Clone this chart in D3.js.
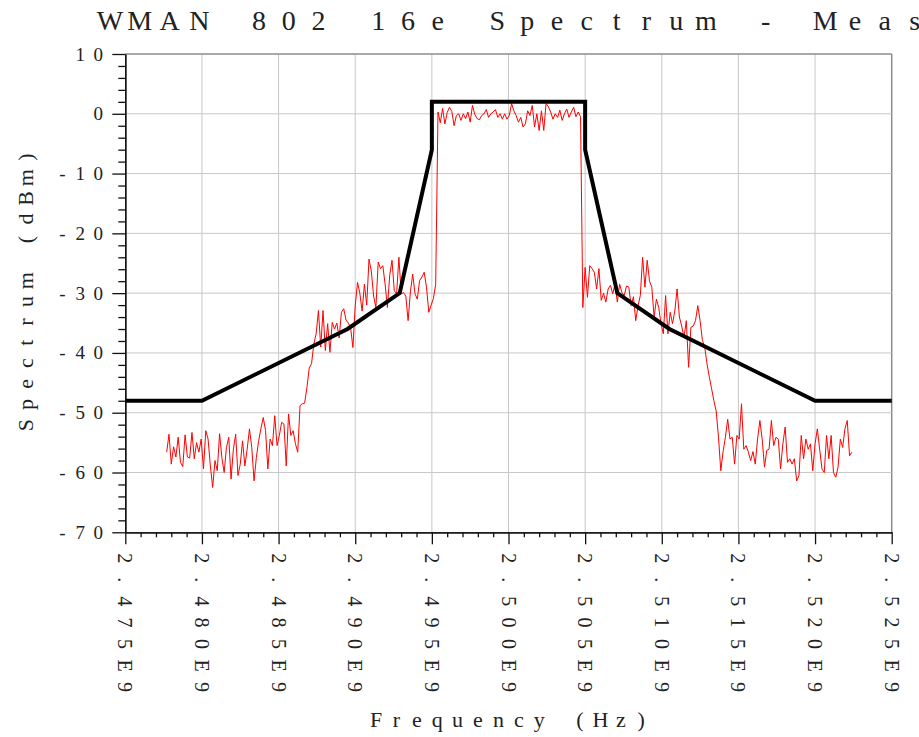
<!DOCTYPE html>
<html><head><meta charset="utf-8">
<script src="https://cdn.jsdelivr.net/npm/d3@7"></script>
<style>body{margin:0;background:#fff;} svg{display:block;}</style>
</head><body><svg id="chart" width="919" height="737"></svg>
<script>
const title = "WMAN 802 16e Spectrum - Meas";
const xLabel = "Frequency (Hz)";
const yLabel = "Spectrum (dBm)";
const xTicks = [2.475e9,2.480e9,2.485e9,2.490e9,2.495e9,2.500e9,2.505e9,2.510e9,2.515e9,2.520e9,2.525e9];
const xTickLabels = ["2.475E9","2.480E9","2.485E9","2.490E9","2.495E9","2.500E9","2.505E9","2.510E9","2.515E9","2.520E9","2.525E9"];
const yTicks = [10,0,-10,-20,-30,-40,-50,-60,-70];
const yTickLabels = ["10","0","-10","-20","-30","-40","-50","-60","-70"];
const maskFreq = [2.475e9,2.480e9,2.4895e9,2.4929e9,2.495e9,2.495e9,2.505e9,2.505e9,2.5071e9,2.5105e9,2.520e9,2.525e9];
const maskLevel = [-48,-48,-36,-30,-6,2,2,-6,-30,-36,-48,-48];
const measStart = 2.4777e9;
const measStep = 0.15e6;
const measLevel = [
-56.6,-53.6,-58.6,-55.7,-57.4,-54.1,-58.3,-59.0,-53.7,-57.4,
-57.6,-53.3,-57.7,-55.0,-56.6,-54.4,-59.4,-53.0,-54.4,-58.9,
-62.5,-58.0,-59.7,-53.5,-57.5,-60.0,-55.8,-54.1,-61.1,-56.1,
-53.6,-60.5,-58.6,-54.7,-58.9,-56.1,-52.7,-55.8,-61.4,-57.5,
-54.7,-52.6,-50.8,-53.0,-59.4,-54.4,-55.5,-50.5,-55.5,-53.8,
-51.6,-51.9,-58.9,-50.2,-53.8,-53.0,-55.2,-56.6,
-48.8,-48.5,
-48.4,-45.8,-42.5,-41.8,-38.5,-36.8,-32.9,-39.0,-32.9,-39.6,
-35.1,-39.9,-34.9,-36.0,-35.0,-37.5,-33.2,-32.6,-34.5,-35.0,
-35.8,-39.1,-32.1,-28.2,-30.0,-33.0,-28.5,-32.0,-24.3,-26.3,
-30.5,-32.4,-24.8,-25.9,-25.4,-28.5,-32.4,-27.0,-24.5,-29.6,
-30.1,-24.0,-30.1,-29.9,-30.5,-34.6,-29.8,-26.8,-30.1,-31.0,
-27.9,-27.3,-26.5,-29.0,-33.2,-32.0,-30.9,-28.5,
0.3,-1.5,0.9,-1.7,0.2,1.1,0.4,-2.0,-0.3,0.0,
-1.1,0.0,-0.8,0.3,-1.4,1.4,-0.1,-0.8,-1.0,-0.3,
0.0,0.7,-0.6,0.0,0.3,0.7,-0.6,0.0,-0.9,0.0,
-0.9,-0.3,1.7,0.5,-0.3,-1.4,-0.6,-2.2,-1.7,0.5,
-0.3,1.4,-2.2,0.0,-2.8,0.5,-2.8,1.7,1.2,0.3,
-0.9,0.0,-0.6,0.6,-1.1,0.0,0.8,-0.6,0.3,1.1,
-0.5,0.3,-0.5,
-32.4,-25.7,-30.7,-25.4,-25.9,-26.5,-29.3,-25.9,-31.2,-30.0,
-31.5,-29.3,-28.7,-30.1,-28.5,-31.5,-28.5,-29.9,-30.4,-28.8,
-29.0,-32.1,-30.6,-34.6,-32.1,-30.4,-24.0,-29.0,-24.5,-28.0,
-29.0,-34.0,-31.0,-32.4,-35.1,-36.8,-30.4,-36.8,-33.2,-35.1,
-33.0,-29.3,-34.0,-35.5,-37.4,-34.6,-42.4,-35.7,-35.5,-34.6,
-32.1,-34.6,-37.9,-39.0,-41.8,-44.0,
-46.0,-48.0,-49.7,-54.1,-59.7,-56.5,-54.1,-51.1,-54.4,-54.1,
-58.6,-53.8,-54.4,-48.5,-56.1,-55.5,-56.6,-58.0,-56.5,-58.6,
-54.4,-51.3,-54.4,-59.1,-56.3,-56.1,-51.3,-55.5,-54.1,-54.4,
-59.4,-55.2,-52.4,-58.3,-57.7,-58.6,-57.7,-61.4,-60.5,-53.8,
-57.7,-54.4,-56.1,-55.2,-59.7,-55.2,-52.7,-56.1,-59.4,-60.0,
-53.8,-57.7,-53.8,-60.0,-60.8,-59.1,-54.4,-55.8,-52.7,-51.3,
-57.2,-56.6
];

const FONT = "'Liberation Serif','DejaVu Serif',serif";
const svg = d3.select("#chart");
const X0 = 125.3, X1 = 891.7, Y0 = 532.3, Y1 = 54.0;
const x = d3.scaleLinear().domain([2.475e9, 2.525e9]).range([X0, X1]);
const y = d3.scaleLinear().domain([-70, 10]).range([Y0, Y1]);

// grid
const grid = svg.append("g");
grid.selectAll("line.gx").data(xTicks.slice(1)).join("line")
  .attr("x1", d => x(d)).attr("x2", d => x(d)).attr("y1", Y1).attr("y2", Y0)
  .attr("stroke", d => d === 2.525e9 ? "#8c8c8c" : "#c8c8c8").attr("stroke-width", d => d === 2.525e9 ? 1.5 : 1);
grid.selectAll("line.gy").data(yTicks.slice(0, -1)).join("line")
  .attr("x1", X0).attr("x2", X1).attr("y1", d => y(d)).attr("y2", d => y(d))
  .attr("stroke", d => d === 10 ? "#8c8c8c" : "#c8c8c8").attr("stroke-width", d => d === 10 ? 1.5 : 1);

// axes
const yMinor = d3.range(-70, 10.001, 2).filter(v => v % 10 !== 0);
const xMinor = d3.range(2475, 2525.001, 1).filter(v => v % 5 !== 0).map(v => v * 1e6);
const axisStyle = g => { g.selectAll("path,line").attr("stroke", "#111").attr("stroke-width", 1.3); };
svg.append("g").attr("transform", `translate(${X0},0)`)
  .call(d3.axisLeft(y).tickValues(yMinor).tickSize(7).tickFormat("").tickSizeOuter(0)).call(axisStyle);
svg.append("g").attr("transform", `translate(${X0},0)`)
  .call(d3.axisLeft(y).tickValues(yTicks).tickSize(13).tickFormat("").tickSizeOuter(0)).call(axisStyle);
svg.append("g").attr("transform", `translate(0,${Y0})`)
  .call(d3.axisBottom(x).tickValues(xMinor).tickSize(5).tickFormat("").tickSizeOuter(0)).call(axisStyle);
svg.append("g").attr("transform", `translate(0,${Y0})`)
  .call(d3.axisBottom(x).tickValues(xTicks).tickSize(12).tickFormat("").tickSizeOuter(0)).call(axisStyle);

// spaced text helper (fixed character pitch)
function spaced(parent, str, startCenter, pitch) {
  const xs = Array.from(str, (c, i) => (startCenter + i * pitch).toFixed(1));
  return parent.append("text").attr("x", xs.join(" ")).attr("text-anchor", "middle")
    .attr("font-family", FONT).attr("fill", "#222").text(str);
}

// y tick labels
yTicks.forEach((v, i) => {
  const s = yTickLabels[i];
  const pitch = 18, lastC = 98.3;
  spaced(svg, s, lastC - (s.length - 1) * pitch, pitch)
    .attr("y", y(v)).attr("dominant-baseline", "central").attr("font-size", 19);
});
// x tick labels (rotated)
xTicks.forEach((v, i) => {
  const g = svg.append("g").attr("transform", `translate(${x(v)},0) rotate(90)`);
  spaced(g, xTickLabels[i], 558.3, 21.45).attr("y", 0)
    .attr("dominant-baseline", "central").attr("font-size", 20);
});

// titles
spaced(svg, title, 110, 29.8).attr("y", 30).attr("font-size", 28);
spaced(svg, xLabel, 376, 20.4).attr("y", 727).attr("font-size", 22);
const gy = svg.append("g").attr("transform", "translate(33,0) rotate(-90)");
spaced(gy, yLabel, -425, 20.6).attr("y", 0).attr("font-size", 22);

// measured trace
const meas = measLevel.map((v, i) => [measStart + i * measStep, v]);
svg.append("path").datum(meas)
  .attr("d", d3.line().x(d => x(d[0])).y(d => y(d[1])))
  .attr("fill", "none").attr("stroke", "#ff0000").attr("stroke-width", 1);

// mask
const mask = maskFreq.map((f, i) => [f, maskLevel[i]]);
svg.append("path").datum(mask)
  .attr("d", d3.line().x(d => x(d[0])).y(d => y(d[1])))
  .attr("fill", "none").attr("stroke", "#000").attr("stroke-width", 4)
  .attr("stroke-linejoin", "miter");
</script></body></html>
